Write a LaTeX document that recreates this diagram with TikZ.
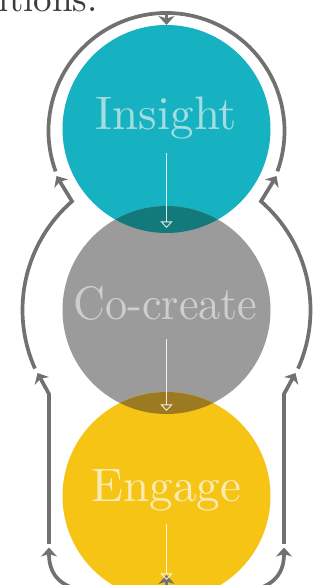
\documentclass[tikz,border=0pt]{standalone}
\usepackage{fontspec}
\usetikzlibrary{arrows.meta,calc}

% the 10pt design of Latin Modern: sturdier strokes at display sizes
\newfontfamily\stagefont{lmroman10-regular.otf}

\definecolor{insightcol}{HTML}{16B2C1}
\definecolor{cocreatecol}{HTML}{9B9B9B}
\definecolor{engagecol}{HTML}{F5C415}
\definecolor{lensTG}{HTML}{137A7B}
\definecolor{lensGY}{HTML}{9C7A22}
\definecolor{insighttext}{HTML}{A3DCE1}
\definecolor{cocreatetext}{HTML}{D0CECB}
\definecolor{engagetext}{HTML}{FCEAB5}
\definecolor{loopgray}{HTML}{717171}
\definecolor{textdark}{HTML}{3C3C3C}

\begin{document}
\begin{tikzpicture}[x=1pt,y=1pt,
  disc/.style={circle, fill=#1, minimum size=208pt, inner sep=0pt, outer sep=0pt},
  stage/.style={anchor=base, inner sep=0pt, text=#1, font=\stagefont\fontsize{47}{47}\selectfont},
  loopline/.style={draw=loopgray, line width=3.7pt, line join=miter},
  looptip/.style={-{Stealth[length=9pt,width=16pt,inset=2.5pt]}},
  flow/.style={draw=white, draw opacity=0.85, line width=0.9pt,
    -{Triangle[open,length=6.5pt,width=12pt]}}]

\useasboundingbox (0,0) rectangle (321,585);
\fill[white] (0,0) rectangle (321,585);

% tail of the preceding sentence
\node[anchor=base east, inner sep=0pt, text=textdark,
  font=\stagefont\fontsize{37}{37}\selectfont] (tail) at (98,573) {itions.};

% the three stages
\node[disc=insightcol]  (insight)  at (166.5,456) {};
\node[disc=cocreatecol] (cocreate) at (166.5,275) {};
\node[disc=engagecol]   (engage)   at (166.5,89)  {};

% overlaps, darkened
\begin{scope}
  \clip (insight.center) circle[radius=104pt];
  \fill[lensTG] (cocreate.center) circle[radius=104pt];
\end{scope}
\begin{scope}
  \clip (cocreate.center) circle[radius=104pt];
  \fill[lensGY] (engage.center) circle[radius=104pt];
\end{scope}

% stage names
\node[stage=insighttext] (tI) at (166.5,455) {Insight};
\node[stage=cocreatetext, xscale=0.94] (tC) at (165.5,265) {Co-create};
\node[stage=engagetext] (tE) at (166.5,83) {Engage};

% loop centres
\coordinate (oI) at (166.5,454);
\coordinate (oC) at (166.5,275);

% loop around Insight, feeding down into it
\draw[loopline] ([shift={(200:118pt)}]oI) arc[start angle=200, end angle=-20, radius=118pt];
\coordinate (topTip) at (166.5,560);
\draw[loopline, looptip] ([shift={(90:118pt)}]oI) -- (topTip);

% loops around Co-create, feeding up
\coordinate (ltipC) at (56.5,409);
\coordinate (rtipC) at (276.5,409);
\draw[loopline, looptip] ([shift={(204:144pt)}]oC) arc[start angle=204, end angle=131, radius=144pt] -- (ltipC);
\draw[loopline, looptip] ([shift={(-24:144pt)}]oC) arc[start angle=-24, end angle=49, radius=144pt] -- (rtipC);

% side rails beside Engage
\coordinate (lfootE) at (49,41);
\coordinate (lkneeE) at (49,191);
\coordinate (ltipE)  at (37.5,212);
\coordinate (rfootE) at (284,41);
\coordinate (rkneeE) at (284,191);
\coordinate (rtipE)  at (295.5,212);
\draw[loopline, looptip] (lfootE) -- (lkneeE) -- (ltipE);
\draw[loopline, looptip] (rfootE) -- (rkneeE) -- (rtipE);

% bottom loop
\coordinate (bottom) at (166.5,-12);
\coordinate (lrise) at (49,37.5);
\coordinate (rrise) at (284,37.5);
\draw[loopline, looptip] (bottom) .. controls (80,-12) and (49,-5) .. (lrise);
\draw[loopline, looptip] (bottom) .. controls (253,-12) and (284,-5) .. (rrise);
\coordinate (botTip) at (166.5,10);
\draw[loopline, looptip] (166.5,-20) -- (botTip);

% flow through each stage
\coordinate (fI1) at (166.5,432);
\coordinate (fI2) at (166.5,357);
\coordinate (fC1) at (166.5,246);
\coordinate (fC2) at (166.5,174);
\coordinate (fE1) at (166.5,61);
\coordinate (fE2) at (166.5,5);
\draw[flow] (fI1) -- (fI2);
\draw[flow] (fC1) -- (fC2);
\draw[flow] (fE1) -- (fE2);

\end{tikzpicture}
\end{document}
